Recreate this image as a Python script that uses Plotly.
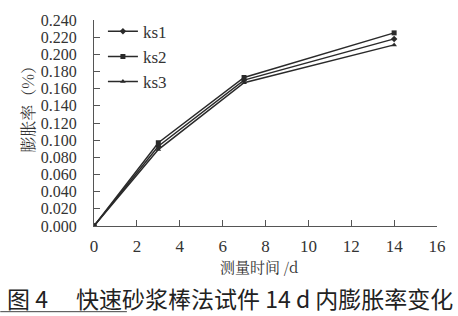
import plotly.graph_objects as go

days = [0, 3, 7, 14]
ks1 = [0.0, 0.093, 0.170, 0.218]
ks2 = [0.0, 0.097, 0.173, 0.225]
ks3 = [0.0, 0.089, 0.167, 0.211]
names = ["ks1", "ks2", "ks3"]
symbols = ["diamond", "square", "triangle-up"]
xticks = list(range(0, 17, 2))
yticks = [i * 0.02 for i in range(13)]
ylabels = ["%.3f" % v for v in yticks]

fig = go.Figure()
for name, vals, sym in zip(names, [ks1, ks2, ks3], symbols):
    fig.add_trace(go.Scatter(
        x=days, y=vals, name=name, mode="lines+markers",
        line=dict(color="#2a2a2a", width=1.5),
        marker=dict(symbol=sym, size=5, color="#2a2a2a"),
    ))

serif = "Liberation Serif, Times New Roman, serif"
fig.update_layout(
    width=458, height=316,
    margin=dict(l=94, r=20, t=12, b=90),
    paper_bgcolor="white", plot_bgcolor="white",
    font=dict(family=serif, size=17, color="#333"),
    showlegend=True,
    legend=dict(x=0.026, y=1.03, xanchor="left", yanchor="top",
                bgcolor="rgba(0,0,0,0)", font=dict(size=17, family=serif, color="#333"),
                itemwidth=30, tracegroupgap=0),
    xaxis=dict(range=[0, 16], tickvals=xticks, ticks="inside", ticklen=6,
               showline=True, linecolor="#555", linewidth=1, showgrid=False,
               zeroline=False, tickcolor="#555", ticklabelstandoff=5),
    yaxis=dict(range=[0, 0.24], tickvals=yticks, ticktext=ylabels,
               ticks="inside", ticklen=6, tickcolor="#555",
               ticklabelstandoff=13,
               tickfont=dict(size=16),
               showline=True, linecolor="#555", linewidth=1, showgrid=False,
               zeroline=False),
)
fig.add_annotation(
    text="膨胀率（%）", textangle=-90,
    xref="paper", yref="paper", x=(27 - 94) / 344, y=(226 - 101) / 214,
    xanchor="center", yanchor="middle", showarrow=False,
    font=dict(size=16, family="Noto Serif CJK SC, Noto Sans CJK SC", color="#333"),
)
fig.add_annotation(
    text="测量时间 /d",
    xref="paper", yref="paper", x=(260 - 94) / 344, y=(226 - 268) / 214,
    xanchor="center", yanchor="middle", showarrow=False,
    font=dict(size=15, family="Noto Serif CJK SC, Noto Sans CJK SC", color="#333"),
)
fig.add_annotation(
    text="图 4　 快速砂浆棒法试件 14 d 内膨胀率变化",
    xref="paper", yref="paper", x=(230 - 94) / 344, y=(226 - 301) / 214,
    xanchor="center", yanchor="middle", showarrow=False,
    font=dict(size=23, family="Noto Sans CJK SC", color="#222"),
)
fig.add_shape(
    type="line", xref="paper", yref="paper",
    x0=(0 - 94) / 344, x1=(127 - 94) / 344,
    y0=(226 - 315) / 214, y1=(226 - 315) / 214,
    line=dict(color="#444", width=1),
)
fig.write_html("out.html")
